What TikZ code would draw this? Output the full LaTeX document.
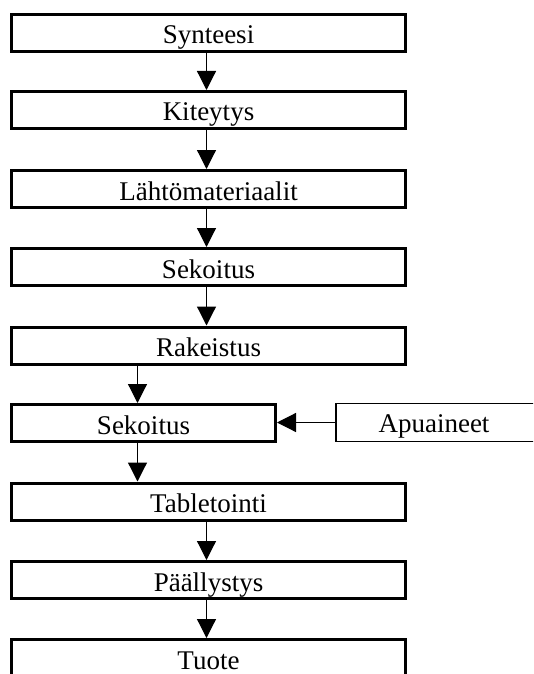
\documentclass[tikz,border=0pt]{standalone}
\usepackage{fontspec}
\setmainfont{Liberation Serif}
\usetikzlibrary{arrows.meta}
\begin{document}
\begin{tikzpicture}[x=1pt,y=-1pt,
  stepbox/.style={draw=black,line width=3pt,minimum width=394pt,minimum height=37pt,
    inner sep=0pt,text height=22pt,text depth=0pt,font=\fontsize{27}{30}\selectfont},
  thinbox/.style={draw=black,line width=1.3pt,minimum width=210pt,minimum height=38pt,inner sep=0pt},
  lbl/.style={inner sep=0pt,anchor=base,font=\fontsize{27}{30}\selectfont},
  flow/.style={line width=1.2pt,-{Triangle[length=19pt,width=19pt]}}]
\clip (0,0) rectangle (533,674);
\fill[white] (0,0) rectangle (533,674);
\node[stepbox] (syn) at (208.5,33) {Synteesi};
\node[stepbox] (kit) at (208.5,110) {Kiteytys};
\node[stepbox] (lah) at (208.5,189) {Lähtömateriaalit};
\node[stepbox] (sek1) at (208.5,267) {Sekoitus};
\node[stepbox] (rak) at (208.5,345.5) {Rakeistus};
\node[stepbox,minimum width=264pt] (sek2) at (143.5,423) {Sekoitus};
\node[stepbox] (tab) at (208.5,501.5) {Tabletointi};
\node[stepbox] (paa) at (208.5,580) {Päällystys};
\node[stepbox] (tuo) at (208.5,658) {Tuote};
\node[thinbox] (apu) at (441,422.5) {};
\node[lbl] (apulbl) at (434,432) {Apuaineet};
\draw[flow] ([xshift=-2pt]syn.south) -- ([xshift=-2pt]kit.north);
\draw[flow] ([xshift=-2pt]kit.south) -- ([xshift=-2pt]lah.north);
\draw[flow] ([xshift=-2pt]lah.south) -- ([xshift=-2pt]sek1.north);
\draw[flow] ([xshift=-2pt]sek1.south) -- ([xshift=-2pt]rak.north);
\draw[flow] ([xshift=-6pt]sek2.north |- rak.south) -- ([xshift=-6pt]sek2.north);
\draw[flow] ([xshift=-6pt]sek2.south) -- ([xshift=-6pt]sek2.south |- tab.north);
\draw[flow] ([xshift=-2pt]tab.south) -- ([xshift=-2pt]paa.north);
\draw[flow] ([xshift=-2pt]paa.south) -- ([xshift=-2pt]tuo.north);
\draw[flow] (apu.west) -- (apu.west -| sek2.east);
\end{tikzpicture}
\end{document}
